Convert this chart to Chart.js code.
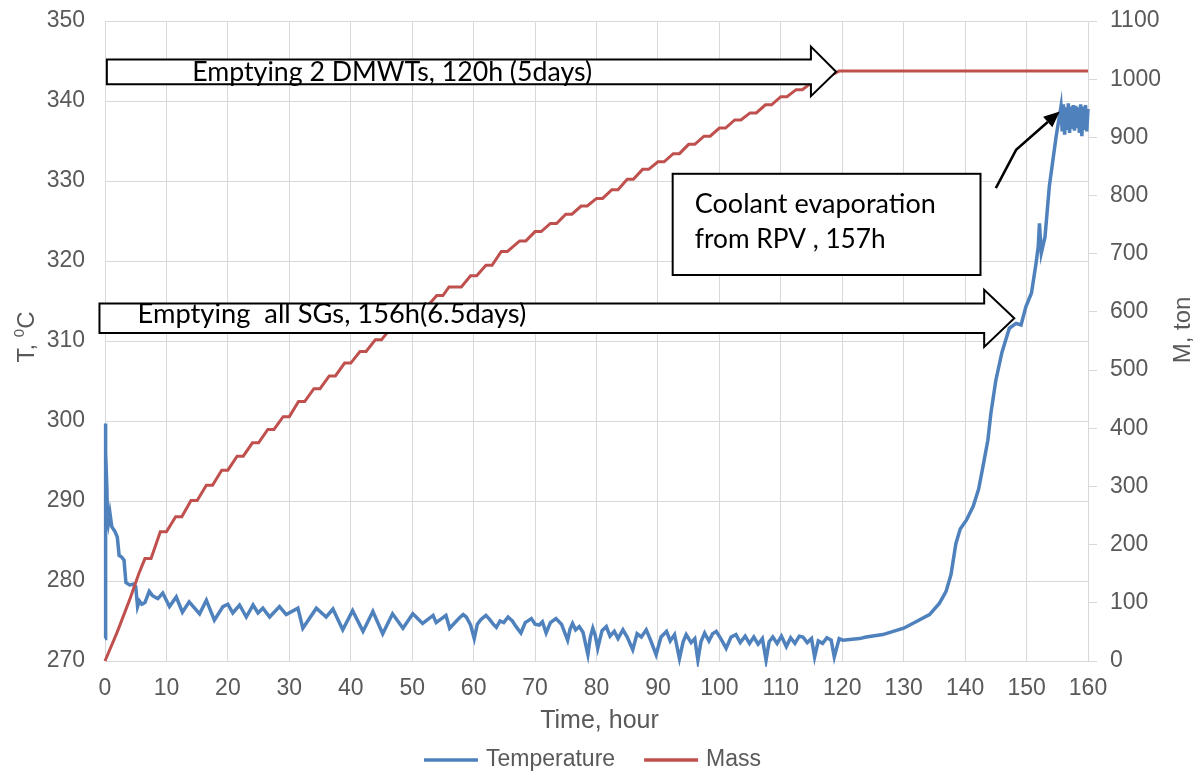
<!DOCTYPE html>
<html>
<head>
<meta charset="utf-8">
<script src="https://cdn.jsdelivr.net/npm/chart.js@4.4.0/dist/chart.umd.min.js"></script>
<style>
html,body{margin:0;padding:0;background:#fff;}
#wrap{width:1201px;height:772px;position:relative;}
</style>
</head>
<body>
<div id="wrap"><canvas id="chart"></canvas></div>
<script>
// axis ticks
var timeTicks = [0,10,20,30,40,50,60,70,80,90,100,110,120,130,140,150,160];
var tempTicks = [270,280,290,300,310,320,330,340,350];
var massTicks = [0,100,200,300,400,500,600,700,800,900,1000,1100];

// Temperature, degC
var tempTime = [0,0.05,0.15,0.3,0.4,0.55,0.8,1.1,1.6,2.0,2.3,2.7,3.1,3.4,4.0,4.6,5.0,5.3,5.6,6.0,6.5,7.2,7.7,8.1,8.6,9.4,
  10.5,11.6,12.6,13.7,15.4,16.5,17.8,19.2,20.0,20.8,21.9,23.0,24.1,24.9,25.7,26.8,28.4,29.5,31.4,32.2,34.4,36.0,37.1,38.7,
  40.3,42.0,43.6,45.2,46.8,48.5,50.1,51.7,53.4,53.9,55.5,56.1,
  57.7,58.3,58.8,59.5,60.1,60.6,61.2,62.0,62.6,63.2,63.7,64.3,64.9,65.6,66.3,67.0,67.7,68.4,69.4,70.0,70.7,71.2,71.8,72.5,
  73.4,74.3,75.3,75.7,76.1,76.6,77.2,77.8,78.6,79.0,79.4,79.8,80.2,80.9,81.6,82.2,82.9,83.5,84.3,85.0,85.9,86.6,87.3,88.1,
  88.8,89.7,90.5,91.4,92.0,92.7,93.5,94.1,94.6,95.4,96.0,96.5,97.0,97.6,98.3,98.9,99.5,100.3,101.1,101.9,102.7,103.4,104.2,
  104.9,105.6,106.3,107.0,107.6,108.1,108.7,109.4,110.1,110.9,111.6,112.3,113.0,113.6,114.3,115.0,115.5,116.1,116.8,117.5,
  118.2,118.7,119.5,120.1,122.8,123.9,126.6,130,132,134.2,135.8,136.9,137.7,138.5,139.2,140.2,141.3,142.2,
  142.9,143.7,144.2,145.0,146.0,147.2,148.3,149.1,149.9,150.8,151.5,151.9,152.1,152.4,153.0,153.7,154.8,155.6,
  155.8,156.0,156.2,156.4,156.6,156.8,157.0,157.2,157.4,157.6,157.8,158.0,158.2,158.4,158.6,158.8,159.0,159.2,159.4,159.6,159.8,160];
var tempVal = [272.8,299.7,296,291.8,288,287.2,288.5,286.8,286.2,285.5,283.2,283,282.6,279.8,279.5,279.6,279.3,276.8,277.5,277.1,277.3,278.7,278.2,278,277.8,278.5,
  276.8,278,276.1,277.4,275.9,277.6,275.1,276.8,277.1,276,277,275.5,277,276,276.6,275.5,276.8,275.8,276.6,274.1,276.6,275.5,276.5,273.9,
  276.3,273.7,276.2,273.4,275.9,274.1,275.9,274.7,275.7,274.8,275.7,274.1,
  275.4,275.8,275.5,274.5,272.8,274.6,275.2,275.7,275.2,274.6,274.2,275.0,274.8,275.5,275.0,274.2,273.5,274.8,275.3,274.6,274.5,274.9,273.5,274.8,
  275.3,274.6,272.6,274.0,274.7,273.9,274.3,273.6,270.8,273.0,274.1,273.2,271.6,273.8,274.3,273.1,273.7,272.8,273.9,273.0,271.4,273.4,273.0,273.9,
  272.6,270.8,273.0,273.7,272.5,273.3,270.3,272.4,273.3,272.3,272.8,270.1,272.4,273.5,272.5,273.4,273.7,272.7,271.6,273.0,273.3,272.3,273.1,
  272.2,273.0,272.1,272.8,270.1,272.4,273,272.2,273.1,271.8,272.9,272.2,273.1,273,272.3,272.8,270.5,272.5,272.2,272.9,
  272.6,270.5,272.8,272.6,272.8,273.0,273.3,274.1,274.9,275.8,277.2,278.7,280.8,284.7,286.5,287.6,289.3,291.5,
  294.3,297.6,301,305.1,308.6,311.6,312.2,312.0,314.3,316,319.5,321.8,324.7,321,323,329.3,335.5,339.3,
  336.2,339.6,335.8,339.2,336.4,339.7,336,339.3,336.5,339.5,336.3,339.4,336.6,339.2,336,339.6,335.6,339.3,336.4,339.5,336.2,339];

// Mass, ton (stepwise)
var massTime = [0,2,4,5.5,6.5,7.5,9,10,11.5,12.5,14,15,16.5,17.5,19,20,21.5,22.5,24,25,26.5,27.5,29,30,31.5,32.5,34,35,36.5,37.5,
  39,40,41.5,42.5,44,45,46.5,47.5,49,50,51.5,52.5,54,55,56,58,59.5,60.5,62,63,64.5,65.5,67.5,68.5,70,71,72.5,73.5,75,76,
  77.5,78.5,80,81,82.5,83.5,85,86,87.5,88.5,90,91,92.5,93.5,95,96,97.5,98.5,100,101,102.5,103.5,105,106,107.5,108.5,
  110,111,112.5,113.5,115,116,117.5,118,119.5,160];
var massVal = [0,50,105,150,176,176,222,222,248,248,276,276,302,302,328,328,352,352,375,375,398,398,420,420,446,446,468,468,490,490,
  512,512,532,532,552,552,572,572,592,592,610,610,628,628,643,643,662,662,680,680,704,704,722,722,738,738,752,752,768,768,
  782,782,795,795,810,810,828,828,845,845,858,858,872,872,888,888,902,902,916,916,930,930,942,942,956,956,
  970,970,982,982,994,994,1006,1006,1014,1014];

var BLUE = '#4F81BD', RED = '#C0504D', GREY = '#595959', GRID = '#D9D9D9';
var AX_FONT = 'Liberation Sans, Arial, sans-serif';
var NOTE_FONT = 'Lato, Open Sans, sans-serif';

function pts(xs, ys){ return xs.map(function(x,i){ return {x:x, y:ys[i]}; }); }

// text that is stretched/shrunk to a target width
function fitText(ctx, txt, x, y, w, size){
  ctx.font = size+'px '+NOTE_FONT;
  var s = size * w / ctx.measureText(txt).width;
  ctx.font = s+'px '+NOTE_FONT;
  ctx.fillText(txt, x, y);
}

function blockArrow(ctx, c, a){
  var X = c.scales.x, Y = c.scales.y;
  var l = X.getPixelForValue(a.left), hx = X.getPixelForValue(a.headX), tip = X.getPixelForValue(a.tip);
  var t = Y.getPixelForValue(a.top), b = Y.getPixelForValue(a.bottom);
  var ht = Y.getPixelForValue(a.headTop), hb = Y.getPixelForValue(a.headBot), m = (t+b)/2;
  ctx.beginPath();
  ctx.moveTo(l,t); ctx.lineTo(hx,t); ctx.lineTo(hx,ht); ctx.lineTo(tip,m);
  ctx.lineTo(hx,hb); ctx.lineTo(hx,b); ctx.lineTo(l,b); ctx.closePath();
  ctx.fillStyle = '#fff'; ctx.fill();
  ctx.strokeStyle = '#000'; ctx.lineWidth = 2; ctx.stroke();
}

var notes = {
  id: 'notes',
  afterDatasetsDraw: function(c){
    var ctx = c.ctx, X = c.scales.x, Y = c.scales.y;
    ctx.save();
    blockArrow(ctx, c, {left:0.3, top:345.2, bottom:342.1, headX:114.9, headTop:346.8, headBot:340.6, tip:119.0});
    blockArrow(ctx, c, {left:-0.9, top:314.7, bottom:311.0, headX:143.1, headTop:316.4, headBot:309.25, tip:148.0});
    // coolant box
    var bx = X.getPixelForValue(92.4), bx2 = X.getPixelForValue(142.5);
    var by = Y.getPixelForValue(330.9), by2 = Y.getPixelForValue(318.25);
    ctx.fillStyle = '#fff'; ctx.fillRect(bx, by, bx2-bx, by2-by);
    ctx.strokeStyle = '#000'; ctx.lineWidth = 2; ctx.strokeRect(bx, by, bx2-bx, by2-by);
    // texts
    ctx.fillStyle = '#000'; ctx.textBaseline = 'alphabetic'; ctx.textAlign = 'left';
    fitText(ctx, 'Emptying 2 DMWTs, 120h (5days)', X.getPixelForValue(14.2), Y.getPixelForValue(342.5), 400, 22);
    fitText(ctx, 'Emptying  all SGs, 156h(6.5days)', X.getPixelForValue(5.3), Y.getPixelForValue(312.2), 389, 22);
    fitText(ctx, 'Coolant evaporation', X.getPixelForValue(96.0), Y.getPixelForValue(326.0), 241, 22);
    fitText(ctx, 'from RPV , 157h', X.getPixelForValue(96.0), Y.getPixelForValue(321.6), 191, 22);
    // pointer arrow
    var p0 = [X.getPixelForValue(145.0), Y.getPixelForValue(329.1)];
    var p1 = [X.getPixelForValue(148.3), Y.getPixelForValue(333.9)];
    var p2 = [X.getPixelForValue(155.4), Y.getPixelForValue(338.7)];
    var ang = Math.atan2(p2[1]-p1[1], p2[0]-p1[0]);
    var hl = 16, hw = 7;
    var bxp = p2[0]-hl*Math.cos(ang), byp = p2[1]-hl*Math.sin(ang);
    ctx.beginPath(); ctx.moveTo(p0[0],p0[1]); ctx.lineTo(p1[0],p1[1]); ctx.lineTo(bxp,byp);
    ctx.lineWidth = 2.5; ctx.strokeStyle = '#000'; ctx.stroke();
    ctx.beginPath(); ctx.moveTo(p2[0],p2[1]);
    ctx.lineTo(bxp+hw*Math.sin(ang), byp-hw*Math.cos(ang));
    ctx.lineTo(bxp-hw*Math.sin(ang), byp+hw*Math.cos(ang));
    ctx.closePath(); ctx.fillStyle = '#000'; ctx.fill();
    ctx.restore();
  },
  afterDraw: function(c){
    var ctx = c.ctx, a = c.chartArea;
    ctx.save();
    ctx.fillStyle = GREY; ctx.textBaseline = 'middle';
    // x title
    ctx.font = '25px '+AX_FONT; ctx.textAlign = 'center';
    ctx.fillText('Time, hour', (a.left+a.right)/2 + 3, 721);
    // left title  T, 0C  (superscript 0)
    ctx.save();
    ctx.translate(27, 337); ctx.rotate(-Math.PI/2);
    ctx.font = '24px '+AX_FONT;
    var w1 = ctx.measureText('T, ').width;
    ctx.font = '15px '+AX_FONT;
    var w2 = ctx.measureText('0').width;
    ctx.font = '24px '+AX_FONT;
    var w3 = ctx.measureText('C').width;
    var sx = -(w1+w2+w3)/2;
    ctx.textAlign = 'left';
    ctx.fillText('T, ', sx, 0);
    ctx.font = '15px '+AX_FONT; ctx.fillText('0', sx+w1, -7);
    ctx.font = '24px '+AX_FONT; ctx.fillText('C', sx+w1+w2, 0);
    ctx.restore();
    // right title
    ctx.save();
    ctx.translate(1183, 330); ctx.rotate(-Math.PI/2);
    ctx.font = '24px '+AX_FONT; ctx.textAlign = 'center';
    ctx.fillText('M, ton', 0, 0);
    ctx.restore();
    // legend
    ctx.font = '23px '+AX_FONT; ctx.textAlign = 'left';
    var ds = c.data.datasets, lineW = 54, gap = 8, sep = 29, tot = 0;
    ds.forEach(function(d,i){ tot += lineW + gap + ctx.measureText(d.label).width + (i ? sep : 0); });
    var x = 592.5 - tot/2, y = 760;
    ds.forEach(function(d,i){
      if (i) x += sep;
      ctx.beginPath(); ctx.moveTo(x, y); ctx.lineTo(x+lineW, y);
      ctx.strokeStyle = d.borderColor; ctx.lineWidth = 3.5; ctx.stroke();
      x += lineW + gap;
      ctx.fillText(d.label, x, y);
      x += ctx.measureText(d.label).width;
    });
    ctx.restore();
  }
};

var tickFont = {family: AX_FONT, size: 23};
function plain(v){ return String(v); }

new Chart(document.getElementById('chart'), {
  type: 'line',
  data: {
    datasets: [
      {label:'Temperature', data: pts(tempTime, tempVal), borderColor: BLUE, backgroundColor: BLUE, borderWidth: 3.5, yAxisID: 'y', order: 1, clip: 6},
      {label:'Mass', data: pts(massTime, massVal), borderColor: RED, backgroundColor: RED, borderWidth: 3, yAxisID: 'y1', order: 0, clip: 6}
    ]
  },
  options: {
    responsive: true, maintainAspectRatio: false, animation: false,
    layout: {padding: {top: 21, left: 0, right: 0, bottom: 0}},
    elements: {point: {radius: 0}, line: {tension: 0}},
    plugins: {legend: {display: false}, tooltip: {enabled: false}},
    scales: {
      x: {
        type: 'linear', min: 0, max: 160,
        afterBuildTicks: function(s){ s.ticks = timeTicks.map(function(v){ return {value: v}; }); },
        afterFit: function(s){ s.height = 111; s.paddingLeft = 0; s.paddingRight = 0; },
        grid: {color: GRID, drawTicks: false},
        border: {color: GRID},
        ticks: {font: tickFont, color: GREY, padding: 14, maxRotation: 0, autoSkip: false, callback: plain}
      },
      y: {
        position: 'left', min: 270, max: 350,
        afterBuildTicks: function(s){ s.ticks = tempTicks.map(function(v){ return {value: v}; }); },
        afterFit: function(s){ s.width = 105; s.paddingTop = 0; s.paddingBottom = 0; },
        grid: {color: GRID, drawTicks: false},
        border: {color: GRID},
        ticks: {font: tickFont, color: GREY, padding: 20, callback: plain}
      },
      y1: {
        position: 'right', min: 0, max: 1100,
        afterBuildTicks: function(s){ s.ticks = massTicks.map(function(v){ return {value: v}; }); },
        afterFit: function(s){ s.width = 113; s.paddingTop = 0; s.paddingBottom = 0; },
        grid: {drawOnChartArea: false, color: GRID, tickLength: 9},
        border: {color: GRID},
        ticks: {font: tickFont, color: GREY, padding: 13, callback: plain}
      }
    }
  },
  plugins: [notes]
});
</script>
</body>
</html>
